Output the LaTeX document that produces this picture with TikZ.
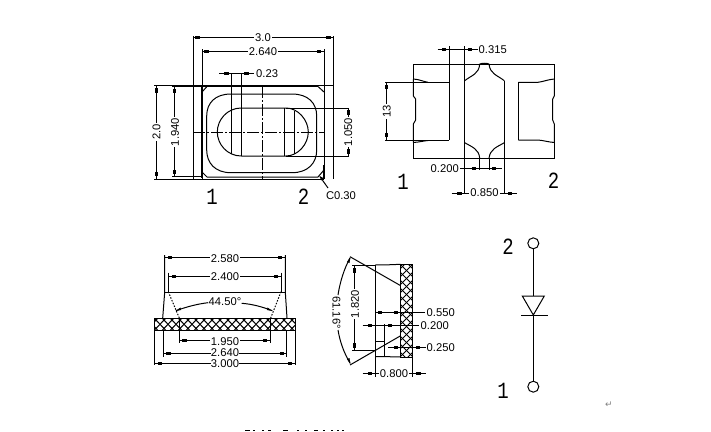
\documentclass[tikz,border=0pt]{standalone}
\usepackage{fontspec}
\usepackage{graphicx}
\setmainfont{Liberation Sans}
\setmonofont{Liberation Mono}
\newfontfamily\symfont{DejaVu Sans}
\newcommand{\cad}[1]{\scalebox{1.02}[1.02]{\fontsize{11}{11}\selectfont #1}}
\newcommand{\bigd}[1]{\scalebox{1}[1.22]{\ttfamily\fontsize{19}{19}\selectfont #1}}
\tikzset{
  ln/.style={line width=1pt,black},
  thick line/.style={line width=1.7pt,black},
  cen/.style={line width=1pt,black,dash pattern=on 12pt off 2pt on 2pt off 2pt},
  dot/.style={line width=1pt,black,dash pattern=on 1.5pt off 1.5pt},
  dimtxt/.style={inner sep=1pt,fill=white},
  nofill/.style={inner sep=0.5pt},
  bigtxt/.style={inner sep=0pt},
  mk/.style={fill=black,draw=none}
}
\newcommand{\hm}[2]{\fill[mk] (#1-2.3,#2-1.5) rectangle (#1+2.3,#2+1.5);}
\newcommand{\vm}[2]{\fill[mk] (#1-1.5,#2-2.3) rectangle (#1+1.5,#2+2.3);}
\begin{document}
\begin{tikzpicture}[x=1pt,y=-1pt]
\useasboundingbox (0,0) rectangle (711,431);
\fill[white] (0,0) rectangle (711,431);

%% ---------- top view ----------
\draw[ln] (193,36) -- (193,179.3);
\draw[ln] (333,36) -- (333,179.3);
\draw[ln] (202,49) -- (202,179);
\draw[ln] (324,49) -- (324,179);
\draw[ln] (154,85.7) -- (333,85.7);
\draw[ln] (154,179.3) -- (324,179.3);
\draw[ln] (172,176.8) -- (202,176.8);
\draw[thick line] (172,86.2) -- (318,86.2);
\draw[thick line] (202,86) -- (202,178);
\draw[thick line] (324,165) -- (324,179);
% package outline
\draw[ln] (202,92) -- (207,86.5) (318,86.5) -- (324,92) (202,172) -- (207,177) (324,170) -- (318,177) -- (207,177);
% inner rounded rectangle
\draw[ln] (231,94) -- (292,94) .. controls (308,94) and (316.7,103) .. (316.7,116)
  -- (316.7,150) .. controls (316.7,163) and (308,172.7) .. (292,172.7)
  -- (231,172.7) .. controls (215,172.7) and (206.7,163) .. (206.7,150)
  -- (206.7,116) .. controls (206.7,103) and (215,94) .. (231,94) -- cycle;
% pill
\draw[ln] (241.3,108) -- (286,108) .. controls (298,108) and (308.3,120) .. (308.3,132)
  .. controls (308.3,144) and (298,156) .. (286,156) -- (241.3,156)
  .. controls (227,156) and (217.3,144) .. (217.3,132)
  .. controls (217.3,120) and (227,108) .. (241.3,108) -- cycle;
\draw[ln] (231.3,73) -- (231.3,154);
\draw[ln] (241.3,73) -- (241.3,156);
\draw[ln] (284.3,108) -- (284.3,156);
\draw[ln] (294.3,111) -- (294.3,154);
\draw[cen] (193,132.7) -- (324,132.7);
\draw[cen] (262.7,86) -- (262.7,179);
% dim 3.0
\draw[ln] (193,37.7) -- (333,37.7);
\hm{197.5}{37.7}\hm{328.5}{37.7}
\node[dimtxt] at (263,38) {\cad{3.0}};
% dim 2.640
\draw[ln] (202,51) -- (324,51);
\hm{206.5}{51}\hm{319}{51}
\node[dimtxt] at (263,52) {\cad{2.640}};
% dim 0.23
\draw[ln] (219,73.3) -- (254,73.3);
\hm{226.5}{73.3}\hm{246.5}{73.3}
\node[nofill,anchor=west] at (255.5,74) {\cad{0.23}};
% dim 2.0
\draw[ln] (156,85.7) -- (156,179.3);
\vm{156}{90.5}\vm{156}{174}
\node[dimtxt,rotate=90] at (156.5,132) {\cad{2.0}};
% dim 1.940
\draw[ln] (174.3,86.5) -- (174.3,176.8);
\vm{174.3}{91}\vm{174.3}{172}
\node[dimtxt,rotate=90] at (175,132) {\cad{1.940}};
% dim 1.050
\draw[ln] (286,108) -- (349,108);
\draw[ln] (286,156) -- (349,156);
\draw[ln] (348.3,108) -- (348.3,156);
\vm{348.3}{112.5}\vm{348.3}{151.5}
\node[dimtxt,rotate=90] at (348.3,132) {\cad{1.050}};
% C0.30
\draw[ln] (320,176.7) -- (328,188);
\fill[mk] (319.5,176) -- (323.5,178) -- (321.5,180.5) -- cycle;
\node[nofill,anchor=center] at (341,196) {\cad{C0.30}};
\node[bigtxt] at (212,196.5) {\bigd{1}};
\node[bigtxt] at (303.5,196.5) {\bigd{2}};

%% ---------- bottom view ----------
\draw[ln] (413.3,64) rectangle (554.3,158.3);
\fill[white] (412.5,80) rectangle (414.5,139);
\fill[white] (553,80) rectangle (555,139);
% left pad
\draw[ln] (385,82.3) -- (449,82.3);
\draw[ln] (385,140) -- (449,140);
\draw[ln] (449,46) -- (449,140);
\draw[ln] (413.3,79) .. controls (420,79.5) and (423,81.5) .. (428,82.3);
\draw[ln] (413.3,142.5) .. controls (420,142) and (423,141) .. (428,140.5);
\draw[ln] (413.3,79) -- (413.3,96) -- (415.7,99) -- (415.7,120) -- (413.3,124) -- (413.3,142.5);
% right pad
\draw[ln] (518.3,82.3) -- (538,82.3) .. controls (544,81.5) and (548,79.5) .. (554.3,79);
\draw[ln] (518.3,140) -- (538,140) .. controls (544,140.5) and (548,142) .. (554.3,142.5);
\draw[ln] (518.3,82.3) -- (518.3,140);
\draw[ln] (554.3,79) -- (554.3,96) -- (552.7,99) -- (552.7,120) -- (554.3,124) -- (554.3,142.5);
% centre H
\draw[ln] (464.7,46) -- (464.7,193);
\draw[ln] (504.3,80.7) -- (504.3,193);
\draw[ln] (464.7,80.7) .. controls (472,75) and (479,74) .. (479.7,64);
\draw[ln] (489,64) .. controls (490,74) and (497,75) .. (504.3,80.7);
\draw[ln] (479.7,64) .. controls (482,63) and (487,63) .. (489,64);
\draw[ln] (464.7,142.7) .. controls (472,147) and (479,149) .. (479.7,158.3);
\draw[ln] (489,158.3) .. controls (490,149) and (497,147) .. (504.3,142.7);
\draw[ln] (479.7,158.3) -- (479.7,170);
\draw[ln] (489,158.3) -- (489,170);
% dim 0.315
\draw[ln] (437.7,49) -- (478,49);
\hm{444}{49}\hm{470}{49}
\node[nofill,anchor=west] at (478,49.5) {\cad{0.315}};
% dim 13
\draw[ln] (386.7,82.3) -- (386.7,140);
\vm{386.7}{87}\vm{386.7}{135}
\node[dimtxt,rotate=90] at (386.7,111.7) {\cad{13}};
% dim 0.200
\draw[ln] (460,168) -- (501.7,168);
\hm{474}{168}\hm{494}{168}
\node[nofill,anchor=east] at (459.5,168.5) {\cad{0.200}};
% dim 0.850
\draw[ln] (451.7,193) -- (516.7,193);
\hm{459.3}{193}\hm{510}{193}
\node[dimtxt] at (484.5,193) {\cad{0.850}};
\node[bigtxt] at (403,182) {\bigd{1}};
\node[bigtxt] at (553.5,181) {\bigd{2}};

%% ---------- front section ----------
\begin{scope}
\clip (154.3,318.3) rectangle (295,330.3);
\foreach \i in {-2,...,20}{
  \draw[line width=1pt] (154+\i*8,318) -- +(12,12.5);
  \draw[line width=1pt] (154+\i*8,330.5) -- +(12,-12.5);
}
\end{scope}
\draw[ln] (154.3,318.3) rectangle (295,330.3);
\draw[ln] (164.7,292) -- (285.3,292);
\draw[ln] (164.7,255) -- (164.7,292) -- (162.7,318);
\draw[ln] (285.3,255) -- (285.3,292) -- (287,318);
\draw[ln] (163.7,330.3) -- (163.7,357);
\draw[ln] (286.7,330.3) -- (286.7,357);
\draw[ln] (154.3,330.3) -- (154.3,365);
\draw[ln] (295,330.3) -- (295,365);
\draw[ln] (179.3,318) -- (179.3,343);
\draw[ln] (270.3,318) -- (270.3,343);
\draw[ln] (168.7,272.7) -- (168.7,292);
\draw[ln] (281,272.7) -- (281,292);
\draw[dot] (168.3,291.7) -- (179.3,318);
\draw[dot] (281,291.7) -- (270.7,318);
% dims
\draw[ln] (164.7,257.7) -- (285.3,257.7);
\hm{170}{257.7}\hm{280}{257.7}
\node[dimtxt] at (225,258.5) {\cad{2.580}};
\draw[ln] (168.7,276) -- (281,276);
\hm{174}{276}\hm{276}{276}
\node[dimtxt] at (225,277) {\cad{2.400}};
\draw[ln] (176,310.7) .. controls (186,307) and (197,304) .. (208,302.7);
\draw[ln] (241.7,303.3) .. controls (252,304) and (263,307) .. (272.3,310.7);
\fill[mk] (175.5,311) -- (180.5,307.5) -- (181,310) -- cycle;
\fill[mk] (272.5,311) -- (267.5,307.5) -- (267,310) -- cycle;
\node[nofill] at (225,302) {\cad{44.50°}};
\draw[ln] (179.3,340.7) -- (270.3,340.7);
\hm{184.3}{340.7}\hm{265}{340.7}
\node[dimtxt] at (225,341.5) {\cad{1.950}};
\draw[ln] (163.7,353.3) -- (286.7,353.3);
\hm{168.5}{353.3}\hm{282}{353.3}
\node[dimtxt,inner sep=0pt] at (225,352.5) {\cad{2.640}};
\draw[ln] (154.3,363.3) -- (295,363.3);
\hm{160}{363.3}\hm{290}{363.3}
\node[dimtxt,inner sep=0pt] at (225,363.5) {\cad{3.000}};

%% ---------- side section ----------
\begin{scope}
\clip (400.7,264.3) rectangle (412.7,357);
\foreach \i in {-2,...,14}{
  \draw[line width=1pt] (400,264+\i*8) -- +(13,13);
  \draw[line width=1pt] (413,264+\i*8) -- +(-13,13);
}
\end{scope}
\draw[ln] (400.7,264.3) rectangle (412.7,357);
\draw[ln] (375.3,264.8) -- (388.3,264.8) -- (400.7,264.3);
\draw[ln] (375.3,356.7) -- (388.3,356.7) -- (400.7,357);
\draw[ln] (375.3,264.8) -- (375.3,377);
\draw[ln] (412.7,357) -- (412.7,377);
\draw[ln] (350,256.7) -- (400.7,285.7);
\draw[ln] (350,365) -- (400.7,335.7);
\draw[ln] (352,265) -- (375.3,265);
\draw[ln] (352,350) -- (375.3,350);
\draw[ln] (375.3,341.7) -- (384,341.7);
\draw[ln] (384,324) -- (384,356.7);
% dims
\draw[ln] (354.3,265) -- (354.3,350);
\vm{354.3}{270.7}\vm{354.3}{345.7}
\node[dimtxt,rotate=90] at (355,304) {\cad{1.820}};
\draw[ln] (350,258) .. controls (344,269) and (340,282) .. (338,295);
\draw[ln] (338,330) .. controls (340,342) and (344,353) .. (350,363);
\fill[mk] (350.5,256.5) -- (347,262) -- (349.5,263) -- cycle;
\fill[mk] (350.5,364.5) -- (347,359) -- (349.5,358) -- cycle;
\node[nofill,rotate=-90] at (336.5,312.5) {\cad{61.16°}};
\draw[ln] (375.3,312.3) -- (425,312.3);
\hm{380}{312.3}\hm{396}{312.3}
\node[nofill,anchor=west] at (426,313) {\cad{0.550}};
\draw[ln] (362.7,325.3) -- (419.3,325.3);
\hm{370}{325.3}\hm{390}{325.3}
\node[nofill,anchor=west] at (420,326) {\cad{0.200}};
\draw[ln] (388.3,347.3) -- (426,347.3);
\hm{396}{347.3}\hm{418}{347.3}
\node[nofill,anchor=west] at (426,347.5) {\cad{0.250}};
\draw[ln] (362.7,373.7) -- (426,373.7);
\hm{370}{373.7}\hm{418.3}{373.7}
\node[dimtxt] at (394,374) {\cad{0.800}};

%% ---------- symbol ----------
\node[circle,draw,line width=1pt,inner sep=0pt,minimum size=11pt] (top) at (533.3,243.3) {};
\node[circle,draw,line width=1pt,inner sep=0pt,minimum size=11pt] (bot) at (533.3,386.7) {};
\coordinate (ta) at (522.3,296);
\coordinate (tb) at (544.3,296);
\coordinate (tc) at (533.3,315);
\coordinate (tm) at (533.3,296);
\draw[ln] (top) -- (tm);
\draw[ln] (tc) -- (bot);
\draw[ln] (ta) -- (tb) -- (tc) -- cycle;
\draw[ln] (521,315) -- (547.7,315);
\node[bigtxt] at (508,247) {\bigd{2}};
\node[bigtxt] at (503,391) {\bigd{1}};
\node[font={\symfont\fontsize{9}{9}\selectfont},text=gray,inner sep=0pt] at (609,405) {↵};

%% ---------- cut-off text at the bottom edge ----------
\foreach \a/\b in {245/250,253/255,262/264,268/271,283/288,297/299,305/307,314/318,323/325,331/333,337/339,342/344}{
  \fill[black] (\a,429.5) rectangle (\b,431);
}
\end{tikzpicture}
\end{document}
